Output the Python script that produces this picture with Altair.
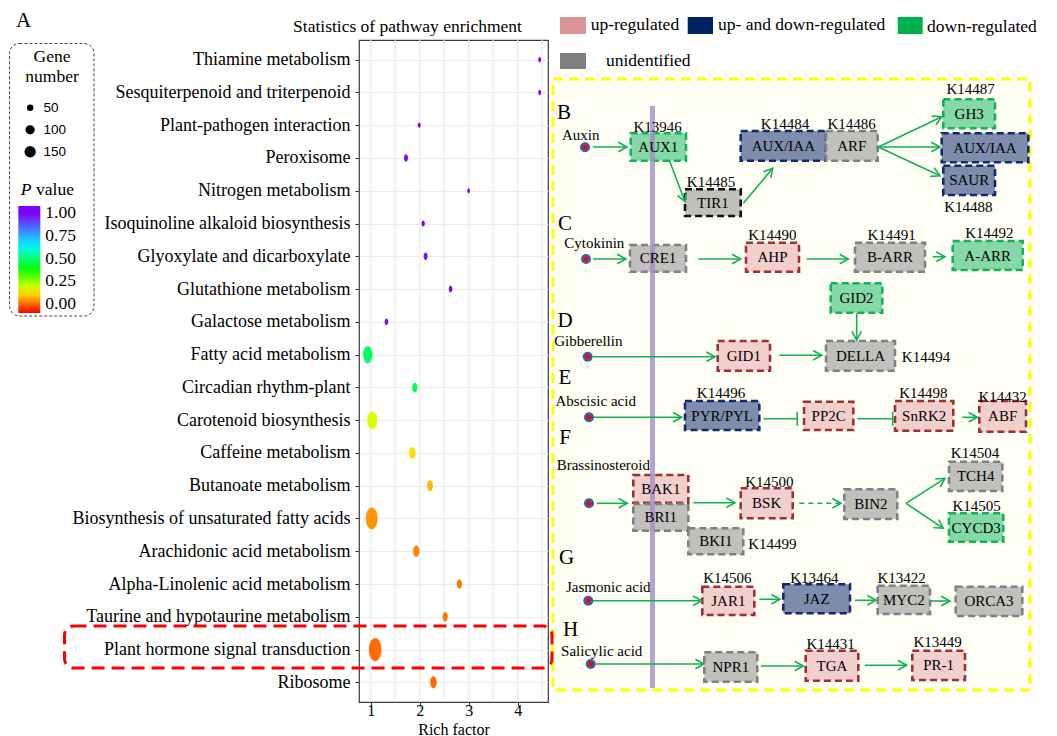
import math
import altair as alt
import pandas as pd

# ------------------------------------------------------------------ data
pathways = [
    "Thiamine metabolism", "Sesquiterpenoid and triterpenoid",
    "Plant-pathogen interaction", "Peroxisome", "Nitrogen metabolism",
    "Isoquinoline alkaloid biosynthesis", "Glyoxylate and dicarboxylate",
    "Glutathione metabolism", "Galactose metabolism", "Fatty acid metabolism",
    "Circadian rhythm-plant", "Carotenoid biosynthesis", "Caffeine metabolism",
    "Butanoate metabolism", "Biosynthesis of unsaturated fatty acids",
    "Arachidonic acid metabolism", "Alpha-Linolenic acid metabolism",
    "Taurine and hypotaurine metabolism", "Plant hormone signal transduction",
    "Ribosome",
]
rich_factor = [4.45, 4.45, 1.99, 1.72, 3.00, 2.07, 2.12, 2.63, 1.32, 0.94,
               1.90, 1.03, 1.85, 2.21, 1.02, 1.93, 2.81, 2.52, 1.09, 2.28]
gene_number = [8, 8, 8, 16, 7, 11, 16, 13, 13, 88,
               28, 96, 40, 34, 139, 40, 26, 28, 160, 43]
p_value = [1.0, 1.0, 1.0, 0.98, 1.0, 1.0, 0.98, 1.0, 0.99, 0.48,
           0.47, 0.18, 0.115, 0.075, 0.042, 0.03, 0.014, 0.014, 0.006, 0.0]

size_breaks = [50, 100, 150]
p_breaks = [0, 0.25, 0.5, 0.75, 1.0]
x_ticks = [1, 2, 3, 4]

box_labels = ["AUX1", "TIR1", "AUX/IAA", "ARF", "GH3", "AUX/IAA", "SAUR",
              "CRE1", "AHP", "B-ARR", "A-ARR", "GID2", "GID1", "DELLA",
              "PYR/PYL", "PP2C", "SnRK2", "ABF", "BAK1", "BRI1", "BKI1", "BSK",
              "BIN2", "TCH4", "CYCD3", "JAR1", "JAZ", "MYC2", "ORCA3", "NPR1",
              "TGA", "PR-1"]
box_status = ["down", "unid_b", "both", "unid", "down", "both", "both",
              "unid", "up", "unid", "down", "down", "up", "unid",
              "both", "up", "up", "up", "up", "unid", "unid", "up",
              "unid", "unid", "down", "up", "both", "unid", "unid", "unid",
              "up", "up"]
kegg_ids = ["K13946", "K14485", "K14484", "K14486", "K14487", "K14488",
            "K14490", "K14491", "K14492", "K14494", "K14496", "K14498",
            "K14432", "K14499", "K14500", "K14504", "K14505", "K14506",
            "K13464", "K13422", "K14431", "K13449"]
hormones = ["Auxin", "Cytokinin", "Gibberellin", "Abscisic acid",
            "Brassinosteroid", "Jasmonic acid", "Salicylic acid"]
panel_letters = ["B", "C", "D", "E", "F", "G", "H"]
status_names = ["up-regulated", "up- and down-regulated", "down-regulated",
                "unidentified"]
status_keys = ["up", "both", "down", "unid"]

# ------------------------------------------------------------------ styles / layout
SERIF = "Liberation Serif"
SANS = "Liberation Sans"
GREEN = "#12b155"
STATUS_FILL = {"up": "#f2cfcd", "both": "#7e8dac", "down": "#84d9a6",
               "unid": "#c0c0bc", "unid_b": "#c0c0bc"}
STATUS_STROKE = {"up": "#9a3232", "both": "#14296a", "down": "#13b257",
                 "unid": "#808080", "unid_b": "#111111"}
LEGEND_SWATCH = {"up": "#D99694", "both": "#002060", "down": "#00B050",
                 "unid": "#7F7F7F"}
# rainbow palette stops for the P value scale
P_STOPS = [-0.1, 0.022, 0.144, 0.267, 0.389, 0.511, 0.633, 1.0, 1.08]
P_COLORS = ["#ff0000", "#ff8000", "#ffff00", "#80ff00", "#00ff00", "#00ff80",
            "#00ffff", "#8000ff", "#8000ff"]

PLOT_X0, PLOT_Y0, PLOT_W, PLOT_H = 359, 40, 189, 662

# page-pixel layout for the pathway diagram
box_xy = [
    (630.7, 686.0, 133.3, 160.7), (685.0, 740.7, 189.3, 216.0),
    (740.7, 826.0, 131.0, 160.7), (826.0, 877.7, 131.0, 160.7),
    (943.3, 995.0, 99.3, 128.3), (941.7, 1028.3, 133.3, 162.3),
    (943.3, 995.0, 165.7, 195.0), (630.0, 686.0, 245.0, 271.7),
    (746.0, 799.0, 242.7, 271.7), (855.0, 925.0, 242.7, 271.7),
    (952.7, 1022.7, 241.0, 270.0), (830.7, 882.3, 283.3, 312.7),
    (717.7, 770.0, 341.0, 370.7), (826.0, 895.0, 341.0, 370.7),
    (685.0, 759.3, 401.0, 430.0), (804.0, 853.3, 401.7, 430.0),
    (895.0, 953.3, 401.0, 430.7), (979.3, 1026.0, 401.0, 431.7),
    (633.3, 688.3, 475.0, 502.7), (633.3, 688.3, 504.0, 530.7),
    (688.3, 743.3, 528.3, 554.3), (740.7, 792.7, 488.3, 518.3),
    (844.3, 897.3, 489.3, 519.0), (949.0, 1002.3, 461.7, 491.0),
    (949.0, 1003.3, 513.3, 541.7), (702.3, 754.3, 586.7, 615.0),
    (783.3, 850.0, 584.3, 613.3), (877.7, 930.0, 585.7, 614.0),
    (955.7, 1022.3, 586.7, 616.0), (704.3, 757.3, 652.3, 681.7),
    (805.7, 858.3, 650.7, 680.7), (912.3, 965.0, 650.7, 680.0),
]
kegg_xy = [(657.7, 126.7), (711, 181.7), (785, 124.3), (851.7, 124.3),
           (970.7, 89.3), (968.3, 207.3), (772.3, 235), (891.7, 235),
           (989.3, 233.3), (926, 356.7), (721, 393.3), (923.3, 393.3),
           (1002.7, 396.5), (772.3, 544.3), (769.3, 481.7), (975, 453.3),
           (976.7, 505.7), (727.3, 578.3), (814.3, 578.3), (901.7, 578.3),
           (830.7, 644), (937.7, 642)]
hormone_xy = [(580.7, 135), (594.3, 242.7), (588.3, 341), (595.7, 400.7),
              (603.3, 465), (608.3, 587.3), (601.7, 651)]
dot_xy = [(585, 147.3), (586, 259), (587.7, 356.7), (589, 417.3),
          (589, 503.3), (588.3, 600.7), (590.7, 664)]
letter_xy = [(564, 113), (565, 223.5), (565, 320.8), (565, 377.5),
             (565, 437.8), (566.7, 557.5), (570.5, 629.5)]
arrows = [
    (593, 147, 627, 147), (669.3, 160, 685, 201.7), (743.3, 203.3, 772.7, 168.3),
    (878.3, 147, 941.7, 116.7), (878.3, 147, 940, 147), (878.3, 147, 940, 175.7),
    (593, 259, 626, 259), (698.3, 259, 740.7, 259), (806.7, 259, 848.3, 259),
    (932.7, 256.7, 945, 256.7), (856.7, 313.3, 856.7, 340),
    (593, 356.7, 715, 356.7), (779.3, 355.3, 821.7, 355.3),
    (593, 417.3, 681.7, 417.3), (962.3, 417.3, 977.3, 417.3),
    (596.7, 503.3, 627.3, 503.3), (693.3, 502.7, 735, 502.7),
    (906, 503.3, 945, 478.3), (906, 503.3, 943.3, 528.3),
    (593, 600.7, 701.7, 600.7), (759.3, 599.3, 780, 599.3),
    (855, 600.3, 876, 600.3), (930, 601, 950, 601),
    (596, 664, 704, 664), (761, 666, 803.3, 666), (865, 665.3, 906.7, 665.3),
]
dashed_arrows = [(799.3, 503.3, 841, 503.3)]
inhibits = [(763.3, 418.7, 797.3, 418.7), (857.3, 418.7, 892.7, 418.7)]
swatch_xy = [(560, 586, 17, 34), (687.7, 713, 17, 34), (897.7, 922.7, 17, 34),
             (560, 586, 53, 69)]
swatch_text_xy = [(590.7, 25), (718, 25), (927, 27), (606, 61)]

# ------------------------------------------------------------------ scales
PXS = alt.Scale(domain=[0, 1000], range=[-PLOT_X0, 1000 - PLOT_X0], nice=False, zero=False)
PYS = alt.Scale(domain=[0, 700], range=[-PLOT_Y0, 700 - PLOT_Y0], nice=False, zero=False)


def pxy(xf="x", yf="y"):
    return dict(x=alt.X(f"{xf}:Q", scale=PXS, axis=None),
                y=alt.Y(f"{yf}:Q", scale=PYS, axis=None))


X_SCALE = alt.Scale(domain=[0.76, 4.62], nice=False, zero=False)
ELLIPSE = ("M0,-2C0.596,-2,1.08,-1.105,1.08,0C1.08,1.105,0.596,2,0,2"
           "C-0.596,2,-1.08,1.105,-1.08,0C-1.08,-1.105,-0.596,-2,0,-2Z")
CHEVRON = "M-1,-0.55L0,0L-1,0.55"
BAR = "M0,-1L0,1"

layers = []

# frames under everything
yellow = pd.DataFrame({"x": [553], "x2": [1030], "y": [79], "y2": [690]})
layers.append(alt.Chart(yellow).mark_rect(fill="#fefef4", stroke="#ffff00", strokeWidth=3,
                                          strokeDash=[10, 6]).encode(
    **pxy(), x2="x2:Q", y2="y2:Q"))

# --- bubble chart
grid_vals = [1, 1.5, 2, 2.5, 3, 3.5, 4, 4.5]
layers.append(alt.Chart(pd.DataFrame({"g": grid_vals})).mark_rule(
    color="#ebebeb", strokeWidth=1.2).encode(x=alt.X("g:Q", scale=X_SCALE, axis=None)))

bub = pd.DataFrame({"pathway": pathways, "rich": rich_factor,
                    "genes": gene_number, "p": p_value})
bubbles = alt.Chart(bub).mark_point(shape=ELLIPSE, filled=True, opacity=1,
                                    strokeWidth=0).encode(
    x=alt.X("rich:Q", scale=X_SCALE,
            axis=alt.Axis(values=x_ticks, format="d", title="Rich factor",
                          titleFont=SERIF, titleFontSize=16, titleFontWeight="normal",
                          titleColor="black", titleY=19, titleBaseline="top",
                          labelFont=SERIF, labelFontSize=16, labelColor="black",
                          labelBaseline="middle",
                          tickColor="#333", tickSize=4, labelPadding=4,
                          domain=False, grid=False)),
    y=alt.Y("pathway:N", sort=pathways, scale=alt.Scale(domain=pathways, padding=0.6),
            axis=alt.Axis(title=None, labelFont=SERIF, labelFontSize=18,
                          labelColor="black", labelLimit=400, tickColor="#333",
                          tickSize=4, labelPadding=5, domain=False, grid=True,
                          gridColor="#ebebeb", gridWidth=1.2)),
    size=alt.Size("genes:Q", scale=alt.Scale(domain=[0, 160], range=[0, 136], zero=True),
                  legend=alt.Legend(title=None, values=size_breaks, orient="none",
                                    legendX=23.4 - PLOT_X0, legendY=101 - PLOT_Y0,
                                    symbolType="circle", symbolFillColor="black",
                                    symbolStrokeColor="black", symbolStrokeWidth=0,
                                    symbolOpacity=1, labelFont=SANS, labelFontSize=13.5,
                                    labelColor="black", labelOffset=6.5, rowPadding=7)),
    color=alt.Color("p:Q",
                    scale=alt.Scale(domain=P_STOPS, range=P_COLORS, interpolate="rgb"),
                    legend=alt.Legend(title=None, values=p_breaks, format=".2f",
                                      orient="none", legendX=18.3 - PLOT_X0,
                                      legendY=206 - PLOT_Y0, gradientLength=107,
                                      gradientThickness=22, gradientStrokeWidth=0,
                                      labelFont=SERIF, labelFontSize=17.5,
                                      labelColor="black", labelOffset=5,
                                      labelOverlap=False)),
)
layers.append(bubbles)

# --- pathway diagram boxes
bdf = pd.DataFrame({
    "x": [b[0] for b in box_xy], "x2": [b[1] for b in box_xy],
    "y": [b[2] for b in box_xy], "y2": [b[3] for b in box_xy],
    "fill": [STATUS_FILL[s] for s in box_status],
    "stroke": [STATUS_STROKE[s] for s in box_status],
    "label": box_labels,
})
bdf["cx"] = (bdf["x"] + bdf["x2"]) / 2
bdf["cy"] = (bdf["y"] + bdf["y2"]) / 2
layers.append(alt.Chart(bdf).mark_rect(strokeWidth=2.6, strokeDash=[7, 4]).encode(
    **pxy(), x2="x2:Q", y2="y2:Q",
    fill=alt.Fill("fill:N", scale=None), stroke=alt.Stroke("stroke:N", scale=None)))

# purple membrane line
layers.append(alt.Chart(pd.DataFrame({"x": [652.5], "y": [106], "y2": [688]})).mark_rule(
    color="#a08dca", strokeWidth=5, opacity=0.8).encode(**pxy(), y2="y2:Q"))


# arrows
def seg_df(segs):
    df = pd.DataFrame(segs, columns=["x", "y", "x2", "y2"])
    df["ang"] = [math.degrees(math.atan2(s[3] - s[1], s[2] - s[0])) % 360 for s in segs]
    return df


adf = seg_df(arrows)
layers.append(alt.Chart(adf).mark_rule(color=GREEN, strokeWidth=1.6).encode(
    **pxy(), x2="x2:Q", y2="y2:Q"))
layers.append(alt.Chart(adf).mark_point(shape=CHEVRON, filled=False, size=300, color=GREEN,
                                        strokeWidth=1.6, opacity=1).encode(
    **pxy("x2", "y2"), angle=alt.Angle("ang:Q", scale=None)))
ddf = seg_df(dashed_arrows)
layers.append(alt.Chart(ddf).mark_rule(color=GREEN, strokeWidth=1.6, strokeDash=[5, 4]).encode(
    **pxy(), x2="x2:Q", y2="y2:Q"))
layers.append(alt.Chart(ddf).mark_point(shape=CHEVRON, filled=False, size=300, color=GREEN,
                                        strokeWidth=1.6, opacity=1).encode(
    **pxy("x2", "y2"), angle=alt.Angle("ang:Q", scale=None)))
idf = seg_df(inhibits)
layers.append(alt.Chart(idf).mark_rule(color=GREEN, strokeWidth=1.6).encode(
    **pxy(), x2="x2:Q", y2="y2:Q"))
layers.append(alt.Chart(idf).mark_point(shape=BAR, filled=False, size=196, color=GREEN,
                                        strokeWidth=1.6, opacity=1).encode(**pxy("x2", "y2")))

# hormone dots
dotdf = pd.DataFrame(dot_xy, columns=["x", "y"])
layers.append(alt.Chart(dotdf).mark_circle(size=100, color="#3d5f9e", opacity=1).encode(**pxy()))
layers.append(alt.Chart(dotdf).mark_circle(size=22, color="#ff0000", opacity=1).encode(**pxy()))

# top legend swatches
sdf = pd.DataFrame({"x": [s[0] for s in swatch_xy], "x2": [s[1] for s in swatch_xy],
                    "y": [s[2] for s in swatch_xy], "y2": [s[3] for s in swatch_xy],
                    "fill": [LEGEND_SWATCH[k] for k in status_keys]})
layers.append(alt.Chart(sdf).mark_rect().encode(**pxy(), x2="x2:Q", y2="y2:Q",
                                                fill=alt.Fill("fill:N", scale=None)))

# texts (centered)
ctext = []
ctext += [(x, y, t, 15) for (x, y), t in zip(kegg_xy, kegg_ids)]
ctext += [(cx, cy, t, 15) for cx, cy, t in zip(bdf["cx"], bdf["cy"], bdf["label"])]
ctext += [(x, y, t, 15) for (x, y), t in zip(hormone_xy, hormones)]
ctext += [(x, y, t, 21) for (x, y), t in zip(letter_xy, panel_letters)]
ctext += [(23.5, 21, "A", 21), (407.5, 27, "Statistics of pathway enrichment", 17.5),
          (52, 57, "Gene", 17.5), (52, 77, "number", 17.5)]
ctdf = pd.DataFrame(ctext, columns=["x", "y", "t", "fs"])
layers.append(alt.Chart(ctdf).mark_text(font=SERIF, color="black", baseline="middle",
                                        align="center").encode(
    **pxy(), text="t:N", size=alt.Size("fs:Q", scale=None)))

ltext = [(x, y, t, 17.5) for (x, y), t in zip(swatch_text_xy, status_names)]
ltext += [(36, 189.5, "value", 17.5)]
ltdf = pd.DataFrame(ltext, columns=["x", "y", "t", "fs"])
layers.append(alt.Chart(ltdf).mark_text(font=SERIF, color="black", baseline="middle",
                                        align="left").encode(
    **pxy(), text="t:N", size=alt.Size("fs:Q", scale=None)))
layers.append(alt.Chart(pd.DataFrame({"x": [20.7], "y": [189.5], "t": ["P"]})).mark_text(
    font=SERIF, fontStyle="italic", fontSize=17.5, color="black", baseline="middle",
    align="left").encode(**pxy(), text="t:N"))

# legend frame and red highlight frame
layers.append(alt.Chart(pd.DataFrame({"x": [9.5], "x2": [94], "y": [43.5], "y2": [316]})).mark_rect(
    fillOpacity=0, stroke="#444", strokeWidth=1, strokeDash=[3, 2], cornerRadius=10).encode(
    **pxy(), x2="x2:Q", y2="y2:Q"))
layers.append(alt.Chart(pd.DataFrame({"x": [64.5], "x2": [552], "y": [626], "y2": [668]})).mark_rect(
    fillOpacity=0, stroke="#ff0000", strokeWidth=3, strokeDash=[13, 7], cornerRadius=9).encode(
    **pxy(), x2="x2:Q", y2="y2:Q"))

chart = alt.layer(*layers).resolve_scale(
    x="independent", y="independent", color="independent", size="independent",
    fill="independent", stroke="independent", angle="independent",
).properties(
    width=PLOT_W, height=PLOT_H,
    autosize=alt.AutoSizeParams(type="none"),
    padding={"left": PLOT_X0 - 8, "top": PLOT_Y0 - 8, "right": 1049 - PLOT_X0 - PLOT_W - 8,
             "bottom": 728 - (PLOT_Y0 - 8) - PLOT_H},
    background="white",
).configure_view(stroke="#3a3a3a", strokeWidth=1.2)

chart.save("out.html", embed_options={"renderer": "svg", "actions": False})
